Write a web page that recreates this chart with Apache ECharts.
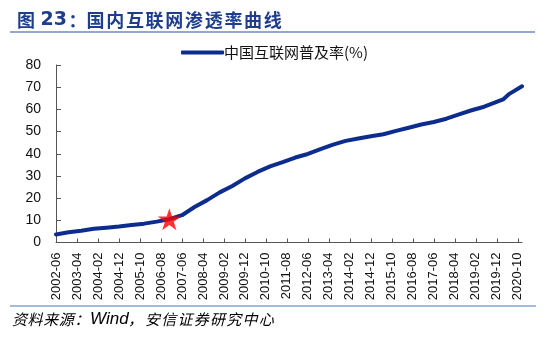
<!DOCTYPE html>
<html>
<head>
<meta charset="utf-8">
<title>国内互联网渗透率曲线</title>
<script src="https://cdn.jsdelivr.net/npm/echarts@6/dist/echarts.min.js"></script>
<style>
  html, body { margin: 0; padding: 0; background: #fff; }
  #chart { width: 550px; height: 338px; }
</style>
</head>
<body>
<div id="chart"></div>
<script>
// Survey dates (CNNIC half-yearly reports) and internet penetration rate, %
const surveyDates = [
  '2002-06', '2002-12', '2003-06', '2003-12', '2004-06', '2004-12',
  '2005-06', '2005-12', '2006-06', '2006-12', '2007-06', '2007-12',
  '2008-06', '2008-12', '2009-06', '2009-12', '2010-06', '2010-12',
  '2011-06', '2011-12', '2012-06', '2012-12', '2013-06', '2013-12',
  '2014-06', '2014-12', '2015-06', '2015-12', '2016-06', '2016-12',
  '2017-06', '2017-12', '2018-06', '2018-12', '2019-06', '2020-03',
  '2020-06', '2020-12'
];
const penetrationRate = [
  3.6, 4.6, 5.3, 6.2, 6.7, 7.2,
  7.9, 8.5, 9.4, 10.5, 12.3, 16.0,
  19.1, 22.6, 25.5, 28.9, 31.8, 34.3,
  36.2, 38.3, 39.9, 42.1, 44.1, 45.8,
  46.9, 47.9, 48.8, 50.3, 51.7, 53.2,
  54.3, 55.8, 57.7, 59.6, 61.2, 64.5,
  67.0, 70.4
];
// Highlighted point (red star)
const starDate = ['2006-12'];
const starValue = [10.5];

const seriesName = '中国互联网普及率(%)';
const titleNumber = '23';
const titleText = '国内互联网渗透率曲线';
const sourceLead = '资料来源：';
const sourceName = 'Wind';
const sourceTail = '安信证券研究中心';
const yTicks = [0, 10, 20, 30, 40, 50, 60, 70, 80];

// Monthly category axis spanning the survey range
const firstMonth = surveyDates[0], lastMonth = surveyDates[surveyDates.length - 1];
const months = [];
{
  let y = +firstMonth.slice(0, 4), m = +firstMonth.slice(5, 7);
  const ey = +lastMonth.slice(0, 4), em = +lastMonth.slice(5, 7);
  while (y < ey || (y === ey && m <= em)) {
    months.push(y + '-' + String(m).padStart(2, '0'));
    m++; if (m > 12) { m = 1; y++; }
  }
}
const lineData = months.map(mo => {
  const i = surveyDates.indexOf(mo);
  return i >= 0 ? penetrationRate[i] : null;
});
const starData = starDate.map((d, i) => [d, starValue[i]]);

// Wrap every character in its own rich-text token so CJK text gets a fixed pitch
const spaced = (str, style) => str.split('').map(c => '{' + style + '|' + c + '}').join('');

const navy = '#0d2d8e';
const titleBlue = '#1e3d8c';
const STAR = 'path://M50,0 L61.2,34.5 L97.6,34.5 L68.2,55.9 L79.4,90.5 L50,69.1 L20.6,90.5 L31.8,55.9 L2.4,34.5 L38.8,34.5 Z';

const cjkTitle = { fontFamily: 'Noto Sans CJK SC', fontWeight: 'bold', fontSize: 18, color: titleBlue, width: 19.7, align: 'left' };
const srcFont = { fontFamily: 'Noto Sans CJK SC', fontStyle: 'italic', fontSize: 15, color: titleBlue, align: 'left' };

const chart = echarts.init(document.getElementById('chart'), null, { renderer: 'canvas' });
chart.setOption({
  animation: false,
  backgroundColor: '#ffffff',
  title: {
    left: 12, top: 6,
    text: '{f|图}{n|' + titleNumber + '}{c|：}' + spaced(titleText, 'a'),
    textStyle: {
      rich: {
        f: Object.assign({}, cjkTitle, { width: 23.5 }),
        n: { fontFamily: 'DejaVu Sans', fontWeight: 'bold', fontSize: 19, color: titleBlue, width: 28, align: 'left' },
        c: Object.assign({}, cjkTitle, { width: 18 }),
        a: cjkTitle
      }
    }
  },
  graphic: [
    { type: 'rect', shape: { x: 10, y: 31, width: 525, height: 2 }, style: { fill: '#93a7d2' }, silent: true },
    { type: 'rect', shape: { x: 10, y: 305.5, width: 526, height: 1 }, style: { fill: '#4b76c6' }, silent: true },
    {
      type: 'text', left: 12, top: 311,
      style: {
        text: spaced(sourceLead, 'p') + '{w|' + sourceName + '}{k|，}' + spaced(sourceTail, 'q'),
        rich: {
          p: Object.assign({}, srcFont, { width: 15.6 }),
          w: { fontFamily: 'Liberation Sans', fontStyle: 'italic', fontSize: 17, color: titleBlue, width: 38, align: 'left' },
          k: Object.assign({}, srcFont, { width: 17 }),
          q: Object.assign({}, srcFont, { width: 16.25 })
        }
      }, silent: true
    }
  ],
  legend: {
    left: 176, top: 40,
    itemWidth: 43, itemHeight: 4, itemGap: 10,
    icon: 'roundRect',
    data: [{ name: seriesName, itemStyle: { color: navy } }],
    textStyle: { fontFamily: 'Noto Sans CJK SC', fontSize: 15, color: '#111', padding: [0, 0, 0, -5] }
  },
  grid: { left: 56, right: 28, top: 65, bottom: 95.5, containLabel: false },
  xAxis: {
    type: 'category',
    data: months,
    boundaryGap: false,
    axisLine: { show: true, lineStyle: { color: '#555', width: 1 } },
    axisTick: { show: true, inside: true, length: 4, interval: 9, lineStyle: { color: '#555' } },
    axisLabel: {
      interval: 9, rotate: 90, margin: 10,
      fontFamily: 'Liberation Sans', fontSize: 13, color: '#111'
    },
    splitLine: { show: false }
  },
  yAxis: {
    type: 'value',
    min: yTicks[0], max: yTicks[yTicks.length - 1], interval: 10,
    axisLine: { show: true, lineStyle: { color: '#555', width: 1 } },
    axisTick: { show: true, inside: true, length: 5, lineStyle: { color: '#555' } },
    axisLabel: { margin: 15, fontFamily: 'Liberation Sans', fontSize: 14, color: '#111' },
    splitLine: { show: false }
  },
  series: [
    {
      name: seriesName,
      type: 'line',
      data: lineData,
      connectNulls: true,
      showSymbol: false,
      symbol: 'none',
      lineStyle: { color: navy, width: 4, cap: 'round', join: 'round' },
      itemStyle: { color: navy },
      z: 2
    },
    {
      name: 'star',
      type: 'scatter',
      data: starData,
      symbol: STAR,
      symbolSize: [23, 22],
      itemStyle: { color: '#ff0000' },
      z: 3
    }
  ]
});
</script>
</body>
</html>
